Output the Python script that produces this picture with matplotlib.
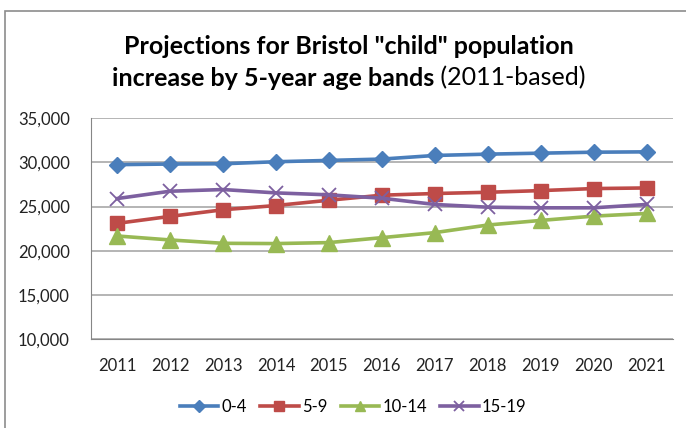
import matplotlib
matplotlib.use('Agg')
import matplotlib.pyplot as plt
from matplotlib.patches import Rectangle
from matplotlib.ticker import FuncFormatter

plt.rcParams['font.family'] = ['Lato', 'DejaVu Sans']

years = ['2011', '2012', '2013', '2014', '2015', '2016', '2017', '2018', '2019', '2020', '2021']
age_0_4 = [29750, 29820, 29850, 30080, 30230, 30380, 30790, 30940, 31050, 31160, 31200]
age_5_9 = [23100, 23890, 24640, 25120, 25720, 26290, 26480, 26620, 26810, 27040, 27110]
age_10_14 = [21670, 21220, 20840, 20810, 20920, 21480, 22050, 22910, 23430, 23920, 24220]
age_15_19 = [25910, 26740, 26930, 26550, 26330, 25950, 25240, 24930, 24860, 24860, 25240]

series = [
	('0-4', age_0_4, '#4A7EBB', 'D', 8.5),
	('5-9', age_5_9, '#BE4B48', 's', 10.5),
	('10-14', age_10_14, '#98B954', '^', 11),
	('15-19', age_15_19, '#7D60A0', 'x', 10),
]

W, H = 686, 428
fig = plt.figure(figsize=(W / 100, H / 100), dpi=100)

# chart border (Excel style)
fig.patches.append(Rectangle((5 / W, -0.1), 1.0, 1 - 11 / H + 0.1, transform=fig.transFigure,
	fill=False, edgecolor='#8c8c8c', linewidth=1.2))

ax = fig.add_axes([90.7 / W, 1 - 339 / H, 582.3 / W, (339 - 118.3) / H])

x = list(range(len(years)))
for name, vals, col, mk, ms in series:
	if mk == 'x':
		ax.plot(x, vals, color=col, lw=2.6, marker=mk, markersize=ms, markeredgewidth=1.3, label=name, zorder=3)
	else:
		ax.plot(x, vals, color=col, lw=2.6, marker=mk, markersize=ms, markeredgecolor=col, label=name, zorder=3)

ax.set_xlim(-0.5, len(years) - 0.5)
ax.set_ylim(10000, 35000)
ax.set_yticks(range(10000, 35001, 5000))
ax.yaxis.set_major_formatter(FuncFormatter(lambda v, p: f'{int(v):,}'))
ax.set_xticks(x)
ax.set_xticklabels(years)
ax.grid(axis='y', color='#a0a0a0', lw=1.1)
ax.set_axisbelow(True)
for s in ['top', 'right']:
	ax.spines[s].set_visible(False)
for s in ['left', 'bottom']:
	ax.spines[s].set_color('#868686')
ax.tick_params(axis='both', length=0, labelsize=12, colors='#222222')
ax.tick_params(axis='y', pad=15)
ax.tick_params(axis='x', pad=14)

# title, partly bold
fig.text(349 / W, 1 - 47 / H, 'Projections for Bristol "child" population', ha='center', va='center',
	fontsize=18, fontweight='bold')
fig.canvas.draw()
r = fig.canvas.get_renderer()
t1 = fig.text(0, 1 - 78 / H, 'increase by 5-year age bands', ha='left', va='center', fontsize=18, fontweight='bold')
t2 = fig.text(0, 1 - 78 / H, ' (2011-based)', ha='left', va='center', fontsize=18)
w1 = t1.get_window_extent(r).width
w2 = t2.get_window_extent(r).width
start = 349 - (w1 + w2) / 2
t1.set_x(start / W)
t2.set_x((start + w1) / W)

fig.legend(loc='center', bbox_to_anchor=(0.515, 1 - 407 / H), ncol=4, frameon=False, fontsize=12,
	handlelength=2.3, columnspacing=0.8, handletextpad=0.2, markerscale=0.7)

fig.savefig('out.png', dpi=100)
